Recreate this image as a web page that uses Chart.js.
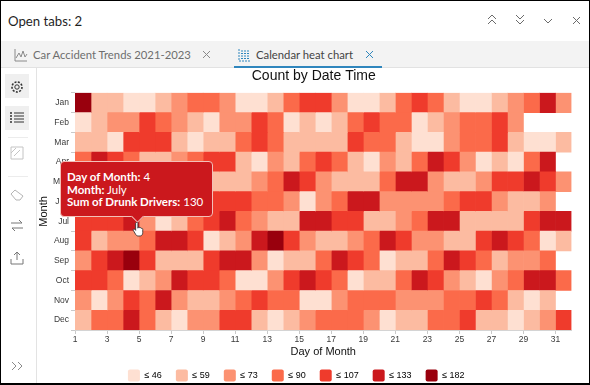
<!DOCTYPE html>
<html><head><meta charset="utf-8">
<script src="https://cdn.jsdelivr.net/npm/chart.js@4/dist/chart.umd.min.js"></script>
<style>
html,body{margin:0;padding:0;background:#fff;}
#frame{position:relative;width:590px;height:385px;overflow:hidden;background:#fff;font-family:Lato,"Open Sans",sans-serif;color:#222;filter:blur(.3px);}
#frame .edge{position:absolute;background:#000;}
#head{position:absolute;left:8px;top:11px;font-size:13.2px;line-height:20px;color:#1f1f1f;}
#tabs{position:absolute;left:0;top:41px;width:590px;height:27px;background:#f3f3f3;border-bottom:1px solid #e2e2e2;box-sizing:border-box;}
.tab{position:absolute;top:5px;font-size:11.3px;line-height:17px;color:#6e6e6e;white-space:nowrap;}
#under{position:absolute;left:234px;top:66px;width:148px;height:2px;background:#2f86bd;}
#rail{position:absolute;left:0;top:68px;width:37px;height:317px;border-right:1px solid #e3e3e3;box-sizing:border-box;}
.sel{position:absolute;left:5px;width:24px;height:24px;background:#efefef;}
.sep{position:absolute;left:8px;width:20px;height:1px;background:#ececec;}
svg.ic{position:absolute;fill:none;stroke-width:1;}
#cv{position:absolute;left:37px;top:68px;}
#tip{position:absolute;box-sizing:border-box;width:153px;background:#cb181d;border:1px solid #f3c0b8;border-radius:4px;color:#fff;font-family:Lato,sans-serif;font-size:11.5px;line-height:12.5px;padding:9px 6px 7.5px 6px;white-space:nowrap;}
#tip b{font-weight:700;}
#tip:after{content:"";position:absolute;left:50%;margin-left:-4px;bottom:-5px;width:8px;height:8px;background:#cb181d;border-right:1px solid #f3c0b8;border-bottom:1px solid #f3c0b8;transform:rotate(45deg);}
</style></head><body>
<div id="frame">
<div id="head">Open tabs: 2</div>
<svg class="ic" style="left:486px;top:13px" width="96" height="16" stroke="#6b6b6b">
<path d="M2 6l4-4 4 4M2 11l4-4 4 4"/><path d="M30 2l4 4 4-4M30 7l4 4 4-4"/><path d="M58 6l4 4 4-4"/><path d="M87 4l7 7M94 4l-7 7"/></svg>
<div id="tabs">
<svg class="ic" style="left:14px;top:7px" width="14" height="14" stroke="#8a8a8a"><path d="M1 1v12h12M2 10l3-5 2 4 2-6 2 6 2-3"/></svg>
<div class="tab" style="left:33px">Car Accident Trends 2021-2023</div>
<svg class="ic" style="left:202px;top:9px" width="10" height="10" stroke="#8a8a8a"><path d="M1 1l7 7M8 1l-7 7"/></svg>
<svg class="ic" style="left:238px;top:7px" width="14" height="14" stroke="#2f86bd"><path d="M1 1v12h12M3 3h9M3 5.5h9M3 8h9M3 10.5h9" stroke-dasharray="2 1"/></svg>
<div class="tab" style="left:256px;color:#444">Calendar heat chart</div>
<svg class="ic" style="left:365px;top:9px" width="10" height="10" stroke="#2f86bd"><path d="M1 1l7 7M8 1l-7 7"/></svg>
</div>
<div id="under"></div>
<div id="rail">
<div class="sel" style="top:6px"></div><div class="sel" style="top:38px"></div>
<svg class="ic" style="left:10px;top:12px" width="14" height="14" stroke="#333"><circle cx="7" cy="7" r="2.2"/><circle cx="7" cy="7" r="5" stroke-dasharray="2 1.4" stroke-width="1.6"/></svg>
<svg class="ic" style="left:10px;top:43px" width="14" height="14" stroke="#333"><path d="M4 2h10M4 5h10M4 8h10M4 11h10"/><path d="M0 2h2M0 5h2M0 8h2M0 11h2" stroke-width="1.5"/></svg>
<div class="sep" style="top:69px"></div>
<svg class="ic" style="left:10px;top:78px" width="14" height="14" stroke="#c4c4c4"><path d="M1 1h12v12H1zM1 7l5-5M4 10l6-6"/></svg>
<div class="sep" style="top:108px"></div>
<svg class="ic" style="left:10px;top:120px" width="14" height="14" stroke="#b5b5b5"><path d="M1 6l4-4 8 6-3 4H6z"/></svg>
<svg class="ic" style="left:10px;top:150px" width="14" height="14" stroke="#777"><path d="M1 5h11l-3-3M13 10H2l3 3"/></svg>
<svg class="ic" style="left:10px;top:183px" width="14" height="14" stroke="#777"><path d="M7 9V1M4 4l3-3 3 3M1 8v5h12V8"/></svg>
<svg class="ic" style="left:11px;top:292px" width="14" height="12" stroke="#8a8a8a"><path d="M1 2l4 4-4 4M7 2l4 4-4 4"/></svg>
</div>
<canvas id="cv" width="552" height="327" style="width:552px;height:327px"></canvas>
<div id="tip" style="display:none"></div>
<svg class="ic" style="left:132px;top:221px;z-index:5" width="13" height="17" viewBox="0 0 15 19"><path d="M5 1.500c1-.6 1.800 0 1.800 1V8l.4-1c1-.5 1.600 0 1.600.7l.2-.2c1-.5 1.600 0 1.700.8 1-.4 1.700 0 1.700 1v3.700c0 2-1 4-3 4H7c-1.500 0-2.300-1-3-2.200L1.500 10.500c-.5-1 .7-2 1.600-1.200L4.200 10.500V2.500c0-.4.300-.8.800-1z" fill="#fff" stroke="#333" stroke-width="1"/></svg>
<div class="edge" style="left:0;top:0;width:590px;height:1px"></div>
<div class="edge" style="left:0;top:0;width:1px;height:385px"></div>
<div class="edge" style="left:0;top:383px;width:590px;height:2px"></div>
<div class="edge" style="left:589px;top:0;width:1px;height:385px"></div>
</div>
<script>
const months = ["Jan","Feb","Mar","Apr","May","Jun","Jul","Aug","Sep","Oct","Nov","Dec"];
const monthNames = ["January","February","March","April","May","June","July","August","September","October","November","December"];
const days = [1,2,3,4,5,6,7,8,9,10,11,12,13,14,15,16,17,18,19,20,21,22,23,24,25,26,27,28,29,30,31];
const limits = [46,59,73,90,107,133,182];
const colors = ["#fee0d2","#fcbba1","#fc9272","#fb6a4a","#ef3b2c","#cb181d","#99000d"];
const jan = [160,53,53,42,42,53,66,82,82,66,42,42,53,82,99,99,66,42,42,53,82,99,82,53,42,42,53,66,82,120,66];
const feb = [42,53,66,66,99,82,66,53,42,66,66,99,82,42,53,42,53,82,99,82,82,42,53,66,82,82,99,66,null,null,null];
const mar = [53,53,42,99,99,99,53,42,53,53,82,99,82,53,53,53,53,99,82,82,53,42,42,66,82,82,99,53,42,42,53];
const apr = [82,120,99,82,53,53,66,82,99,99,53,42,66,53,82,99,82,53,42,66,53,82,120,99,66,42,53,42,82,120,null];
const may = [66,82,99,66,53,82,99,66,53,53,53,66,82,120,99,66,53,53,53,82,120,120,66,53,53,66,99,99,120,99,66];
const jun = [82,53,66,99,82,53,66,99,99,99,99,82,82,66,42,66,82,120,120,66,66,66,66,82,99,99,66,53,53,66,null];
const jul = [99,99,99,130,66,42,53,82,99,120,82,66,53,53,120,120,99,99,53,53,66,82,120,120,53,53,53,53,99,120,120];
const aug = [99,53,66,66,82,120,120,99,42,53,66,120,160,99,66,53,53,66,82,120,99,66,66,53,53,99,120,99,82,42,53];
const sep = [66,99,120,160,99,53,53,53,99,120,120,66,42,53,53,82,120,99,82,42,53,53,82,120,99,82,53,66,66,82,null];
const oct = [99,99,82,42,53,66,120,99,99,82,42,42,66,99,120,99,82,42,53,53,82,120,99,66,53,42,66,82,120,120,82];
const nov = [66,42,66,99,82,120,66,53,53,66,82,99,82,82,42,42,66,82,82,82,66,66,66,82,82,99,82,53,42,53,null];
const dec = [53,82,82,120,82,53,42,66,66,99,99,53,42,53,66,82,82,82,66,42,53,53,82,82,99,53,53,42,53,66,99];
const rows = [jan,feb,mar,apr,may,jun,jul,aug,sep,oct,nov,dec];
const hoverDay = 4, hoverMonth = 6;
const colorFor = v => v==null ? "rgba(0,0,0,0)" : colors[limits.findIndex(l => v <= l)];
const datasets = days.map((d,i) => ({
  label:"Day "+d,
  data: rows.map(r => r[i]==null ? null : [d,d+1]),
  backgroundColor: rows.map(r => colorFor(r[i])),
  borderWidth:0, barPercentage:1, categoryPercentage:1, grouped:false
}));
Chart.Tooltip.positioners.cursor = (items,pos) => pos;
const tip = document.getElementById("tip");
const txt = "#3a3a3a";
const chart = new Chart(document.getElementById("cv"),{
  type:"bar",
  data:{labels:months,datasets},
  options:{
    indexAxis:"y",responsive:false,animation:false,events:[],
    layout:{padding:{left:0,right:17.5,top:0,bottom:0}},
    scales:{
      x:{type:"linear",position:"bottom",min:1,max:32,
        afterBuildTicks:s=>{s.ticks=days.filter(d=>d%2===1).map(value=>({value}));},
        afterFit:s=>{s.height=29;},
        grid:{drawOnChartArea:false,color:"#c9c9c9",tickLength:4},border:{color:"#d4d4d4"},
        ticks:{autoSkip:false,maxRotation:0,color:txt,font:{family:"Liberation Sans",size:8.5},padding:1,includeBounds:false},
        title:{display:true,text:"Day of Month",color:"#111",font:{family:"Liberation Sans",size:11},padding:{top:2,bottom:0}}},
      y:{type:"category",offset:true,
        afterFit:s=>{s.width=38;},
        grid:{drawOnChartArea:false,color:"#c9c9c9",tickLength:4},border:{display:false},
        ticks:{color:txt,font:{family:"Liberation Sans",size:8.5},padding:2},
        title:{display:true,text:"Month",color:"#111",font:{family:"Liberation Sans",size:11},padding:0}}
    },
    plugins:{
      title:{display:true,text:"Count by Date Time",color:"#111",font:{family:"Liberation Sans",size:14,weight:"normal"},padding:{top:0,bottom:8}},
      legend:{display:true,position:"bottom",
        labels:{boxWidth:12,boxHeight:12,padding:14,color:"#555",font:{family:"Liberation Sans",size:9},useBorderRadius:true,borderRadius:2,
          generateLabels:()=>limits.map((l,i)=>({text:"\u2264 "+l,fillStyle:colors[i],strokeStyle:colors[i],lineWidth:0,hidden:false,index:i,borderRadius:2}))}},
      tooltip:{enabled:false,position:"cursor",external:({tooltip:t})=>{
        if(!t.opacity||!t.dataPoints){tip.style.display="none";return;}
        const p=t.dataPoints[0];
        const day=days[p.datasetIndex],m=p.dataIndex;
        tip.innerHTML="<b>Day of Month:</b> "+day+"<br><b>Month:</b> "+monthNames[m]+"<br><b>Sum of Drunk Drivers:</b> "+rows[m][p.datasetIndex];
        tip.style.display="block";
        const cx=37+t.caretX, by=68+t.caretY;
        tip.style.left=(cx-tip.offsetWidth/2)+"px";
        tip.style.top=(by-tip.offsetHeight)+"px";
      }}
    }
  },
  plugins:[{id:"shiftBlocks",afterLayout(c){
    c.legend.left-=8;c.legend.right-=8;c.legend.top-=3.5;c.legend.bottom-=3.5;
    c.titleBlock.left+=9.5;c.titleBlock.right+=9.5;
  }}]
});
chart.tooltip.setActiveElements([{datasetIndex:hoverDay-1,index:hoverMonth}],{x:99.5,y:149});
chart.update();
</script>
</body></html>
